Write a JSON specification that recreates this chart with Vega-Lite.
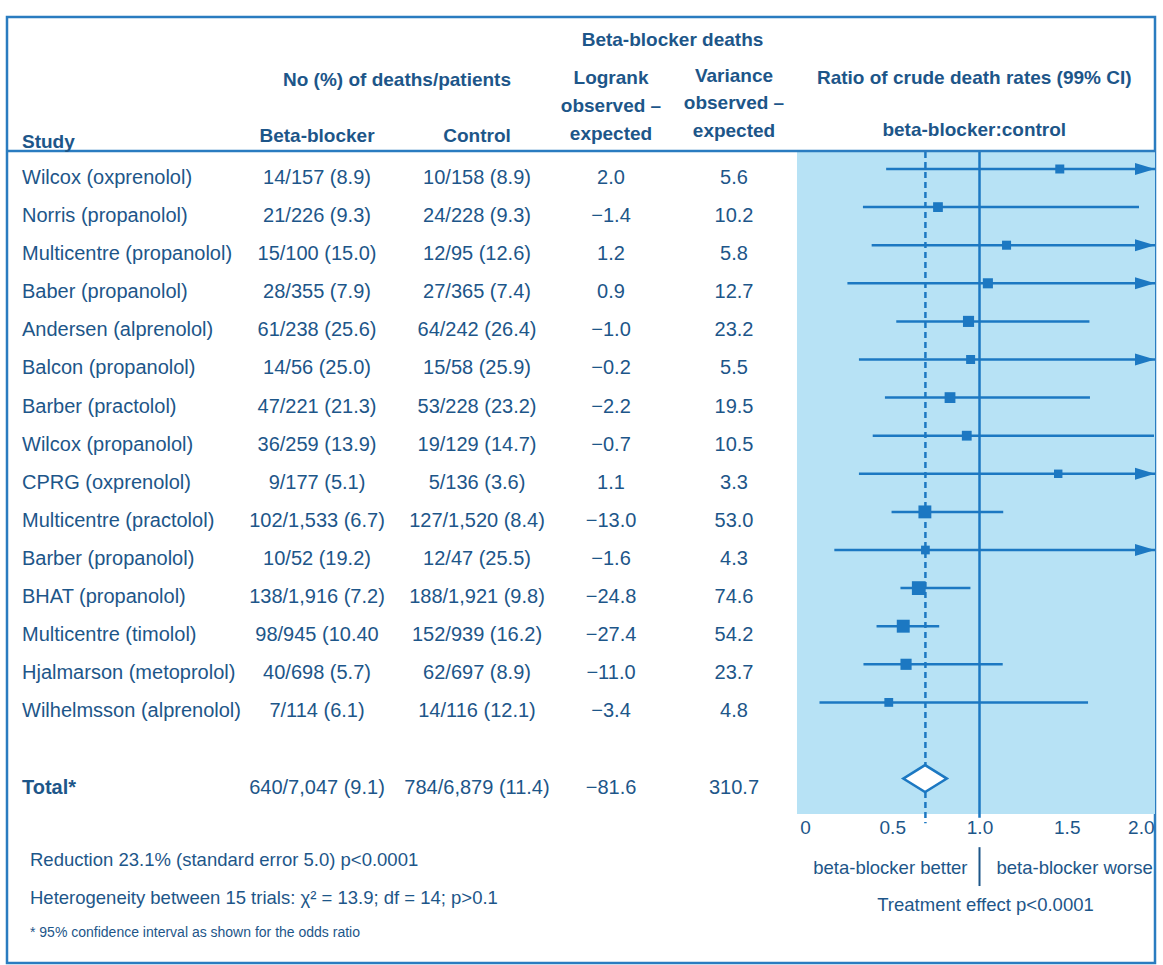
{
  "$schema": "https://vega.github.io/schema/vega-lite/v6.json",
  "width": 1148,
  "height": 946,
  "autosize": {"type": "none"},
  "padding": {"left": 7, "top": 17, "right": 8, "bottom": 2},
  "background": "white",
  "config": {
    "view": {"stroke": "#2a7cc0", "strokeWidth": 2.5},
    "axisX": {"labelExpr": "datum.value == 0 ? '0' : format(datum.value, '.1f')", "domain": false, "ticks": false, "tickSize": 0, "grid": false, "offset": -149, "labelPadding": 4, "labelFontSize": 19, "labelFont": "Liberation Sans", "labelColor": "#1d5689", "title": null, "labelBound": false, "labelOverlap": false, "labelFlush": 3, "orient": "bottom", "zindex": 2}
  },
  "datasets": {
    "studies": [
      {"row": 1, "study": "Wilcox (oxprenolol)", "bb": "14/157 (8.9)", "ctrl": "10/158 (8.9)", "logrank": 2.0, "variance": 5.6, "ratio": 1.46, "lo": 0.465, "hi": 4.58},
      {"row": 2, "study": "Norris (propanolol)", "bb": "21/226 (9.3)", "ctrl": "24/228 (9.3)", "logrank": -1.4, "variance": 10.2, "ratio": 0.762, "lo": 0.332, "hi": 1.914},
      {"row": 3, "study": "Multicentre (propanolol)", "bb": "15/100 (15.0)", "ctrl": "12/95 (12.6)", "logrank": 1.2, "variance": 5.8, "ratio": 1.155, "lo": 0.382, "hi": 3.49},
      {"row": 4, "study": "Baber (propanolol)", "bb": "28/355 (7.9)", "ctrl": "27/365 (7.4)", "logrank": 0.9, "variance": 12.7, "ratio": 1.048, "lo": 0.243, "hi": 4.52},
      {"row": 5, "study": "Andersen (alprenolol)", "bb": "61/238 (25.6)", "ctrl": "64/242 (26.4)", "logrank": -1.0, "variance": 23.2, "ratio": 0.937, "lo": 0.523, "hi": 1.63},
      {"row": 6, "study": "Balcon (propanolol)", "bb": "14/56 (25.0)", "ctrl": "15/58 (25.9)", "logrank": -0.2, "variance": 5.5, "ratio": 0.949, "lo": 0.309, "hi": 2.91},
      {"row": 7, "study": "Barber (practolol)", "bb": "47/221 (21.3)", "ctrl": "53/228 (23.2)", "logrank": -2.2, "variance": 19.5, "ratio": 0.831, "lo": 0.458, "hi": 1.633},
      {"row": 8, "study": "Wilcox (propanolol)", "bb": "36/259 (13.9)", "ctrl": "19/129 (14.7)", "logrank": -0.7, "variance": 10.5, "ratio": 0.927, "lo": 0.388, "hi": 2.0},
      {"row": 9, "study": "CPRG (oxprenolol)", "bb": "9/177 (5.1)", "ctrl": "5/136 (3.6)", "logrank": 1.1, "variance": 3.3, "ratio": 1.451, "lo": 0.309, "hi": 6.81},
      {"row": 10, "study": "Multicentre (practolol)", "bb": "102/1,533 (6.7)", "ctrl": "127/1,520 (8.4)", "logrank": -13.0, "variance": 53.0, "ratio": 0.687, "lo": 0.496, "hi": 1.136},
      {"row": 11, "study": "Barber (propanolol)", "bb": "10/52 (19.2)", "ctrl": "12/47 (25.5)", "logrank": -1.6, "variance": 4.3, "ratio": 0.69, "lo": 0.168, "hi": 2.92},
      {"row": 12, "study": "BHAT (propanolol)", "bb": "138/1,916 (7.2)", "ctrl": "188/1,921 (9.8)", "logrank": -24.8, "variance": 74.6, "ratio": 0.652, "lo": 0.547, "hi": 0.948},
      {"row": 13, "study": "Multicentre (timolol)", "bb": "98/945 (10.40", "ctrl": "152/939 (16.2)", "logrank": -27.4, "variance": 54.2, "ratio": 0.563, "lo": 0.41, "hi": 0.769},
      {"row": 14, "study": "Hjalmarson (metoprolol)", "bb": "40/698 (5.7)", "ctrl": "62/697 (8.9)", "logrank": -11.0, "variance": 23.7, "ratio": 0.579, "lo": 0.335, "hi": 1.133},
      {"row": 15, "study": "Wilhelmsson (alprenolol)", "bb": "7/114 (6.1)", "ctrl": "14/116 (12.1)", "logrank": -3.4, "variance": 4.8, "ratio": 0.48, "lo": 0.083, "hi": 1.622},
      {"row": 17, "study": "Total*", "bb": "640/7,047 (9.1)", "ctrl": "784/6,879 (11.4)", "logrank": -81.6, "variance": 310.7, "ratio": 0.688, "lo": 0.56, "hi": 0.814}
    ],
    "headers": [
      {"text": "Study", "row": 0.29, "col": 0},
      {"text": "Beta-blocker deaths", "row": -2.386, "col": 3.5},
      {"text": "No (%) of deaths/patients", "row": -1.336, "col": 1.5},
      {"text": "Logrank", "row": -1.388, "col": 3},
      {"text": "Variance", "row": -1.441, "col": 4},
      {"text": "observed –", "row": -0.654, "col": 3},
      {"text": "observed –", "row": -0.732, "col": 4},
      {"text": "expected", "row": 0.081, "col": 3},
      {"text": "expected", "row": 0.003, "col": 4},
      {"text": "Beta-blocker", "row": 0.134, "col": 1},
      {"text": "Control", "row": 0.134, "col": 2}
    ],
    "plotHeaders": [
      {"text": "Ratio of crude death rates (99% CI)", "row": -1.388},
      {"text": "beta-blocker:control", "row": -0.024}
    ],
    "notes": [
      {"text": "Reduction 23.1% (standard error 5.0) p<0.0001", "row": 19.14},
      {"text": "Heterogeneity between 15 trials: χ² = 13.9; df = 14; p>0.1", "row": 20.13},
      {"text": "* 95% confidence interval as shown for the odds ratio", "row": 21.05}
    ]
  },
  "resolve": {"scale": {"x": "independent"}, "axis": {"x": "independent"}},
  "layer": [
    {
      "layer": [
        {
          "data": {"values": [{}]},
          "mark": {"type": "rect", "color": "#b7e2f5"},
          "encoding": {
            "x": {"datum": -0.046, "type": "quantitative", "scale": {"domain": [-4.5731, 2.0057], "nice": false, "zero": false, "clamp": true}, "axis": {"values": [0, 0.5, 1, 1.5, 2]}},
            "x2": {"datum": 2.1},
            "y": {"datum": 0.554, "type": "quantitative", "scale": {"domain": [-2.9895, 21.84], "reverse": true, "nice": false, "zero": false}, "axis": null},
            "y2": {"datum": 17.93}
          }
        },
        {
          "data": {"values": [{}]},
          "mark": {"type": "rule", "color": "#1c78c2", "strokeWidth": 2.5, "strokeDash": [6, 4]},
          "encoding": {
            "x": {"datum": 0.69, "type": "quantitative", "scale": {"domain": [-4.5731, 2.0057], "nice": false, "zero": false, "clamp": true}, "axis": {"values": [0, 0.5, 1, 1.5, 2]}},
            "y": {"datum": 0.554, "type": "quantitative", "scale": {"domain": [-2.9895, 21.84], "reverse": true, "nice": false, "zero": false}, "axis": null},
            "y2": {"datum": 18.17}
          }
        },
        {
          "data": {"values": [{}]},
          "mark": {"type": "rule", "color": "#1c78c2", "strokeWidth": 2.5},
          "encoding": {
            "x": {"datum": 1, "type": "quantitative", "scale": {"domain": [-4.5731, 2.0057], "nice": false, "zero": false, "clamp": true}, "axis": {"values": [0, 0.5, 1, 1.5, 2]}},
            "y": {"datum": 0.554, "type": "quantitative", "scale": {"domain": [-2.9895, 21.84], "reverse": true, "nice": false, "zero": false}, "axis": null},
            "y2": {"datum": 18.03}
          }
        },
        {
          "data": {"values": [{}]},
          "mark": {"type": "rule", "color": "#1d5689", "strokeWidth": 2},
          "encoding": {
            "x": {"datum": 1, "type": "quantitative", "scale": {"domain": [-4.5731, 2.0057], "nice": false, "zero": false, "clamp": true}, "axis": {"values": [0, 0.5, 1, 1.5, 2]}},
            "y": {"datum": 18.8, "type": "quantitative", "scale": {"domain": [-2.9895, 21.84], "reverse": true, "nice": false, "zero": false}, "axis": null},
            "y2": {"datum": 19.82}
          }
        },
        {
          "data": {"name": "studies"},
          "transform": [{"filter": "datum.row < 17"}],
          "mark": {"type": "rule", "color": "#1c78c2", "strokeWidth": 2.5},
          "encoding": {
            "x": {"field": "lo", "type": "quantitative", "scale": {"domain": [-4.5731, 2.0057], "nice": false, "zero": false, "clamp": true}, "axis": {"values": [0, 0.5, 1, 1.5, 2]}},
            "x2": {"field": "hi"},
            "y": {"field": "row", "type": "quantitative", "scale": {"domain": [-2.9895, 21.84], "reverse": true, "nice": false, "zero": false}, "axis": null}
          }
        },
        {
          "data": {"name": "studies"},
          "transform": [{"filter": "datum.row < 17"}],
          "mark": {"type": "point", "shape": "square", "filled": true, "color": "#1c78c2", "opacity": 1},
          "encoding": {
            "x": {"field": "ratio", "type": "quantitative", "scale": {"domain": [-4.5731, 2.0057], "nice": false, "zero": false, "clamp": true}, "axis": {"values": [0, 0.5, 1, 1.5, 2]}},
            "y": {"field": "row", "type": "quantitative", "scale": {"domain": [-2.9895, 21.84], "reverse": true, "nice": false, "zero": false}, "axis": null},
            "size": {"field": "variance", "type": "quantitative", "scale": {"type": "sqrt", "domain": [0, 75], "range": [40, 190]}, "legend": null}
          }
        },
        {
          "data": {"name": "studies"},
          "transform": [{"filter": "datum.hi > 2"}],
          "mark": {"type": "point", "shape": "M-2,-0.6L0,0L-2,0.6Z", "size": 400, "filled": true, "color": "#1c78c2", "opacity": 1},
          "encoding": {
            "x": {"field": "hi", "type": "quantitative", "scale": {"domain": [-4.5731, 2.0057], "nice": false, "zero": false, "clamp": true}, "axis": {"values": [0, 0.5, 1, 1.5, 2]}},
            "y": {"field": "row", "type": "quantitative", "scale": {"domain": [-2.9895, 21.84], "reverse": true, "nice": false, "zero": false}, "axis": null}
          }
        },
        {
          "data": {"name": "studies"},
          "transform": [{"filter": "datum.row == 17"}],
          "mark": {"type": "point", "shape": "M-1,0L0,-0.62L1,0L0,0.62Z", "size": 1900, "filled": true, "fill": "white", "stroke": "#1c78c2", "strokeWidth": 2.5, "opacity": 1},
          "encoding": {
            "x": {"field": "ratio", "type": "quantitative", "scale": {"domain": [-4.5731, 2.0057], "nice": false, "zero": false, "clamp": true}, "axis": {"values": [0, 0.5, 1, 1.5, 2]}},
            "y": {"field": "row", "type": "quantitative", "scale": {"domain": [-2.9895, 21.84], "reverse": true, "nice": false, "zero": false}, "axis": null}
          }
        },
        {
          "data": {"name": "plotHeaders"},
          "mark": {"type": "text", "align": "center", "baseline": "middle", "font": "Liberation Sans", "fontSize": 19, "fontWeight": "bold", "color": "#1d5689"},
          "encoding": {
            "x": {"datum": 0.97, "type": "quantitative", "scale": {"domain": [-4.5731, 2.0057], "nice": false, "zero": false, "clamp": true}, "axis": {"values": [0, 0.5, 1, 1.5, 2]}},
            "y": {"field": "row", "type": "quantitative", "scale": {"domain": [-2.9895, 21.84], "reverse": true, "nice": false, "zero": false}, "axis": null},
            "text": {"field": "text"}
          }
        },
        {
          "data": {"values": [{"text": "beta-blocker better", "row": 19.35}]},
          "mark": {"type": "text", "align": "right", "baseline": "middle", "dx": -12, "font": "Liberation Sans", "fontSize": 18.5, "color": "#1d5689"},
          "encoding": {
            "x": {"datum": 1, "type": "quantitative", "scale": {"domain": [-4.5731, 2.0057], "nice": false, "zero": false, "clamp": true}, "axis": {"values": [0, 0.5, 1, 1.5, 2]}},
            "y": {"field": "row", "type": "quantitative", "scale": {"domain": [-2.9895, 21.84], "reverse": true, "nice": false, "zero": false}, "axis": null},
            "text": {"field": "text"}
          }
        },
        {
          "data": {"values": [{"text": "beta-blocker worse", "row": 19.35}]},
          "mark": {"type": "text", "align": "left", "baseline": "middle", "dx": 17, "font": "Liberation Sans", "fontSize": 18.5, "color": "#1d5689"},
          "encoding": {
            "x": {"datum": 1, "type": "quantitative", "scale": {"domain": [-4.5731, 2.0057], "nice": false, "zero": false, "clamp": true}, "axis": {"values": [0, 0.5, 1, 1.5, 2]}},
            "y": {"field": "row", "type": "quantitative", "scale": {"domain": [-2.9895, 21.84], "reverse": true, "nice": false, "zero": false}, "axis": null},
            "text": {"field": "text"}
          }
        },
        {
          "data": {"values": [{"text": "Treatment effect p<0.0001", "row": 20.32}]},
          "mark": {"type": "text", "align": "center", "baseline": "middle", "dx": 6, "font": "Liberation Sans", "fontSize": 18.5, "color": "#1d5689"},
          "encoding": {
            "x": {"datum": 1, "type": "quantitative", "scale": {"domain": [-4.5731, 2.0057], "nice": false, "zero": false, "clamp": true}, "axis": {"values": [0, 0.5, 1, 1.5, 2]}},
            "y": {"field": "row", "type": "quantitative", "scale": {"domain": [-2.9895, 21.84], "reverse": true, "nice": false, "zero": false}, "axis": null},
            "text": {"field": "text"}
          }
        }
      ]
    },
    {
      "layer": [
        {
          "data": {"values": [{}]},
          "mark": {"type": "rule", "color": "#2a7cc0", "strokeWidth": 2.5},
          "encoding": {
            "y": {"datum": 0.528, "type": "quantitative", "scale": {"domain": [-2.9895, 21.84], "reverse": true, "nice": false, "zero": false}, "axis": null}
          }
        },
        {
          "data": {"name": "studies"},
          "transform": [{"filter": "datum.row < 17"}],
          "mark": {"type": "text", "align": "left", "baseline": "middle", "dy": 9, "font": "Liberation Sans", "fontSize": 20, "color": "#1d5689"},
          "encoding": {
            "x": {"datum": 0, "type": "quantitative", "scale": {"domain": [0, 1, 2, 3, 4], "range": [15, 310, 470, 604, 727], "nice": false, "zero": false}, "axis": null},
            "y": {"field": "row", "type": "quantitative", "scale": {"domain": [-2.9895, 21.84], "reverse": true, "nice": false, "zero": false}, "axis": null},
            "text": {"field": "study"}
          }
        },
        {
          "data": {"name": "studies"},
          "transform": [{"filter": "datum.row == 17"}],
          "mark": {"type": "text", "align": "left", "baseline": "middle", "dy": 9, "font": "Liberation Sans", "fontSize": 20, "fontWeight": "bold", "color": "#1d5689"},
          "encoding": {
            "x": {"datum": 0, "type": "quantitative", "scale": {"domain": [0, 1, 2, 3, 4], "range": [15, 310, 470, 604, 727], "nice": false, "zero": false}, "axis": null},
            "y": {"field": "row", "type": "quantitative", "scale": {"domain": [-2.9895, 21.84], "reverse": true, "nice": false, "zero": false}, "axis": null},
            "text": {"field": "study"}
          }
        },
        {
          "data": {"name": "studies"},
          "mark": {"type": "text", "align": "center", "baseline": "middle", "dy": 9, "font": "Liberation Sans", "fontSize": 20, "color": "#1d5689"},
          "encoding": {
            "x": {"datum": 1, "type": "quantitative", "scale": {"domain": [0, 1, 2, 3, 4], "range": [15, 310, 470, 604, 727], "nice": false, "zero": false}, "axis": null},
            "y": {"field": "row", "type": "quantitative", "scale": {"domain": [-2.9895, 21.84], "reverse": true, "nice": false, "zero": false}, "axis": null},
            "text": {"field": "bb"}
          }
        },
        {
          "data": {"name": "studies"},
          "mark": {"type": "text", "align": "center", "baseline": "middle", "dy": 9, "font": "Liberation Sans", "fontSize": 20, "color": "#1d5689"},
          "encoding": {
            "x": {"datum": 2, "type": "quantitative", "scale": {"domain": [0, 1, 2, 3, 4], "range": [15, 310, 470, 604, 727], "nice": false, "zero": false}, "axis": null},
            "y": {"field": "row", "type": "quantitative", "scale": {"domain": [-2.9895, 21.84], "reverse": true, "nice": false, "zero": false}, "axis": null},
            "text": {"field": "ctrl"}
          }
        },
        {
          "data": {"name": "studies"},
          "mark": {"type": "text", "align": "center", "baseline": "middle", "dy": 9, "font": "Liberation Sans", "fontSize": 20, "color": "#1d5689"},
          "encoding": {
            "x": {"datum": 3, "type": "quantitative", "scale": {"domain": [0, 1, 2, 3, 4], "range": [15, 310, 470, 604, 727], "nice": false, "zero": false}, "axis": null},
            "y": {"field": "row", "type": "quantitative", "scale": {"domain": [-2.9895, 21.84], "reverse": true, "nice": false, "zero": false}, "axis": null},
            "text": {"field": "logrank", "type": "quantitative", "format": ".1f"}
          }
        },
        {
          "data": {"name": "studies"},
          "mark": {"type": "text", "align": "center", "baseline": "middle", "dy": 9, "font": "Liberation Sans", "fontSize": 20, "color": "#1d5689"},
          "encoding": {
            "x": {"datum": 4, "type": "quantitative", "scale": {"domain": [0, 1, 2, 3, 4], "range": [15, 310, 470, 604, 727], "nice": false, "zero": false}, "axis": null},
            "y": {"field": "row", "type": "quantitative", "scale": {"domain": [-2.9895, 21.84], "reverse": true, "nice": false, "zero": false}, "axis": null},
            "text": {"field": "variance", "type": "quantitative", "format": ".1f"}
          }
        },
        {
          "data": {"name": "headers"},
          "transform": [{"filter": "datum.col > 0"}],
          "mark": {"type": "text", "align": "center", "baseline": "middle", "font": "Liberation Sans", "fontSize": 19, "fontWeight": "bold", "color": "#1d5689"},
          "encoding": {
            "x": {"field": "col", "type": "quantitative", "scale": {"domain": [0, 1, 2, 3, 4], "range": [15, 310, 470, 604, 727], "nice": false, "zero": false}, "axis": null},
            "y": {"field": "row", "type": "quantitative", "scale": {"domain": [-2.9895, 21.84], "reverse": true, "nice": false, "zero": false}, "axis": null},
            "text": {"field": "text"}
          }
        },
        {
          "data": {"name": "headers"},
          "transform": [{"filter": "datum.col == 0"}],
          "mark": {"type": "text", "align": "left", "baseline": "middle", "font": "Liberation Sans", "fontSize": 19, "fontWeight": "bold", "color": "#1d5689"},
          "encoding": {
            "x": {"field": "col", "type": "quantitative", "scale": {"domain": [0, 1, 2, 3, 4], "range": [15, 310, 470, 604, 727], "nice": false, "zero": false}, "axis": null},
            "y": {"field": "row", "type": "quantitative", "scale": {"domain": [-2.9895, 21.84], "reverse": true, "nice": false, "zero": false}, "axis": null},
            "text": {"field": "text"}
          }
        },
        {
          "data": {"name": "notes"},
          "transform": [{"filter": "datum.row < 21"}],
          "mark": {"type": "text", "align": "left", "baseline": "middle", "dx": 8, "font": "Liberation Sans", "fontSize": 18.5, "color": "#1d5689"},
          "encoding": {
            "x": {"datum": 0, "type": "quantitative", "scale": {"domain": [0, 1, 2, 3, 4], "range": [15, 310, 470, 604, 727], "nice": false, "zero": false}, "axis": null},
            "y": {"field": "row", "type": "quantitative", "scale": {"domain": [-2.9895, 21.84], "reverse": true, "nice": false, "zero": false}, "axis": null},
            "text": {"field": "text"}
          }
        },
        {
          "data": {"name": "notes"},
          "transform": [{"filter": "datum.row > 21"}],
          "mark": {"type": "text", "align": "left", "baseline": "middle", "dx": 8, "font": "Liberation Sans", "fontSize": 14, "color": "#1d5689"},
          "encoding": {
            "x": {"datum": 0, "type": "quantitative", "scale": {"domain": [0, 1, 2, 3, 4], "range": [15, 310, 470, 604, 727], "nice": false, "zero": false}, "axis": null},
            "y": {"field": "row", "type": "quantitative", "scale": {"domain": [-2.9895, 21.84], "reverse": true, "nice": false, "zero": false}, "axis": null},
            "text": {"field": "text"}
          }
        }
      ]
    }
  ]
}
